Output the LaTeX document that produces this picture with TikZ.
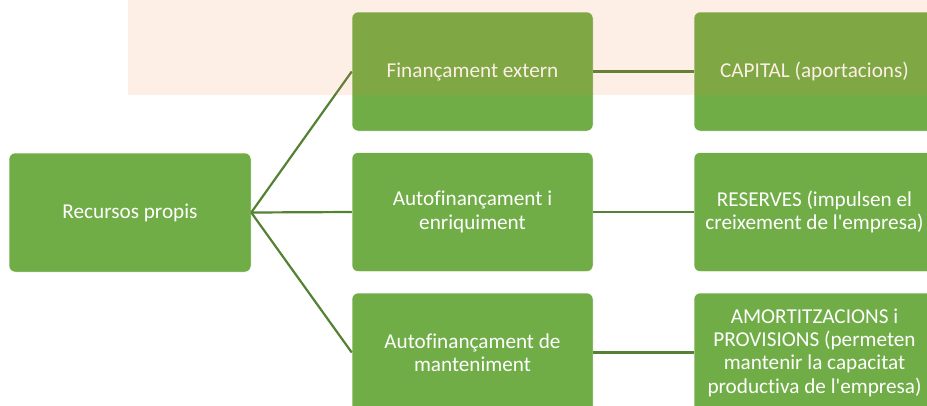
\documentclass[tikz,border=0pt]{standalone}
\usepackage{fontspec}
\newfontfamily\boxfont{Carlito}[Ligatures={NoCommon}]
\definecolor{boxgreen}{RGB}{112,173,71}
\definecolor{linegreen}{RGB}{84,130,53}
\definecolor{overlayorange}{RGB}{237,125,49}
\begin{document}
\begin{tikzpicture}[x=1pt,y=-1pt,
  box/.style={rectangle, rounded corners=6pt, fill=boxgreen, draw=white, line width=0.5pt,
    minimum width=241pt, minimum height=119pt, inner sep=0pt, align=center,
    text=white, font=\boxfont\fontsize{21.2}{23.3}\selectfont},
  conn/.style={draw=linegreen, line width=2.2pt}]
\useasboundingbox (0,0) rectangle (927,405);
\clip (0,0) rectangle (927,405);
\node[box, minimum width=242pt] (rp) at (130,212.5) {Recursos propis};
\node[box] (m1) at (472.5,71.5) {Finançament extern};
\node[box] (m2) at (472.5,212) {Autofinançament i\\enriquiment};
\node[box] (m3) at (472.5,352.5) {Autofinançament de\\manteniment};
\node[box] (r1) at (814.5,71.5) {CAPITAL (aportacions)};
\node[box] (r2) at (814.5,212) {RESERVES (impulsen el\\creixement de l'empresa)};
\node[box] (r3) at (814.5,352.5) {AMORTITZACIONS i\\PROVISIONS (permeten\\mantenir la capacitat\\productiva de l'empresa)};
\draw[conn] (rp.east) -- (m1.west);
\draw[conn] (rp.east) -- (m2.west);
\draw[conn] (rp.east) -- (m3.west);
\draw[conn] (m1.east) -- (r1.west);
\draw[conn] (m2.east) -- (r2.west);
\draw[conn] (m3.east) -- (r3.west);
\fill[overlayorange, opacity=0.12] (128,0) rectangle (927,95);
\end{tikzpicture}
\end{document}
